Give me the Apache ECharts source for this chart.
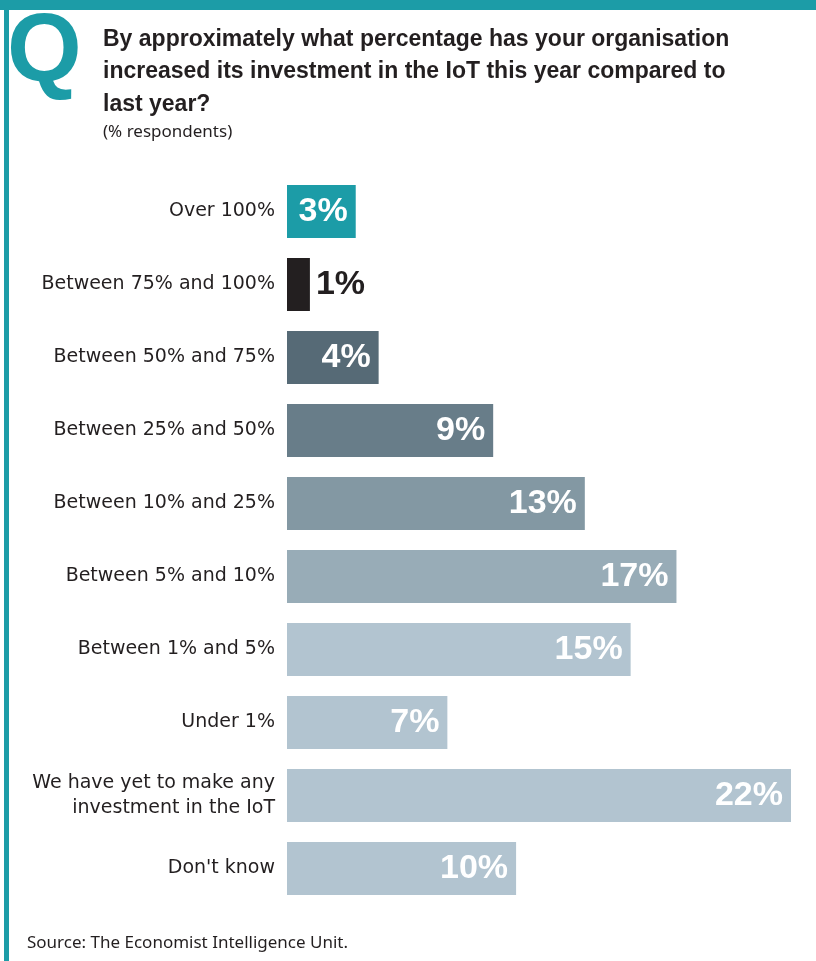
<!DOCTYPE html>
<html>
<head>
<meta charset="utf-8">
<script src="https://cdn.jsdelivr.net/npm/echarts@6/dist/echarts.min.js"></script>
<style>html,body{margin:0;padding:0;background:#fff;}#chart{width:816px;height:961px;}</style>
</head>
<body>
<div id="chart"></div>
<script>
const categories = ["Over 100%", "Between 75% and 100%", "Between 50% and 75%", "Between 25% and 50%", "Between 10% and 25%", "Between 5% and 10%", "Between 1% and 5%", "Under 1%", "We have yet to make any\ninvestment in the IoT", "Don't know"];
const values = [3, 1, 4, 9, 13, 17, 15, 7, 22, 10];
const barColors = ["#1c9ca7", "#231f20", "#566a76", "#687d89", "#8398a3", "#98acb7", "#b2c4d0", "#b2c4d0", "#b2c4d0", "#b2c4d0"];
const titleText = "By approximately what percentage has your organisation\nincreased its investment in the IoT this year compared to\nlast year?";
const subtitleText = "(% respondents)";
const sourceText = "Source: The Economist Intelligence Unit.";

const chart = echarts.init(document.getElementById('chart'), null, {renderer: 'canvas'});
const teal = "#1c9ca7";
const ink = "#231f20";
const data = values.map((v, i) => {
  const dark = i === 1;
  return {
    value: v,
    itemStyle: {color: barColors[i]},
    label: dark ? {position: 'right', color: ink, distance: 6} : {position: 'insideRight', color: '#ffffff', distance: 8}
  };
});
chart.setOption({
  animation: false,
  backgroundColor: '#ffffff',
  graphic: [
    {type: 'rect', shape: {x: 0, y: 0, width: 816, height: 10}, style: {fill: teal}},
    {type: 'rect', shape: {x: 4, y: 0, width: 5, height: 961}, style: {fill: teal}},
    {type: 'text', x: 7, y: 7, style: {text: 'Q', font: "bold 96px 'Liberation Sans', sans-serif", fill: teal}},
    {type: 'text', x: 103, y: 23, style: {text: titleText, font: "bold 23px 'Liberation Sans', sans-serif", fill: ink, lineHeight: 32.5, textVerticalAlign: 'top'}},
    {type: 'text', x: 103, y: 124, style: {text: subtitleText, font: "17px 'Noto Sans', sans-serif", fill: ink, textVerticalAlign: 'top'}},
    {type: 'text', x: 27, y: 935, style: {text: sourceText, font: "17px 'Noto Sans', sans-serif", fill: ink, textVerticalAlign: 'top'}}
  ],
  grid: {left: 287, right: 25, top: 175, height: 730, containLabel: false},
  xAxis: {type: 'value', min: 0, max: 22, show: false},
  yAxis: {
    type: 'category', data: categories, inverse: true,
    axisLine: {show: false}, axisTick: {show: false},
    axisLabel: {margin: 12, fontFamily: "'DejaVu Sans', sans-serif", fontSize: 19, color: ink, lineHeight: 25}
  },
  series: [{
    type: 'bar', data: data, barWidth: 53,
    label: {show: true, formatter: '{c}%', fontFamily: "'Liberation Sans', Arial, sans-serif", fontWeight: 'bold', fontSize: 34}
  }]
});
</script>
</body>
</html>
